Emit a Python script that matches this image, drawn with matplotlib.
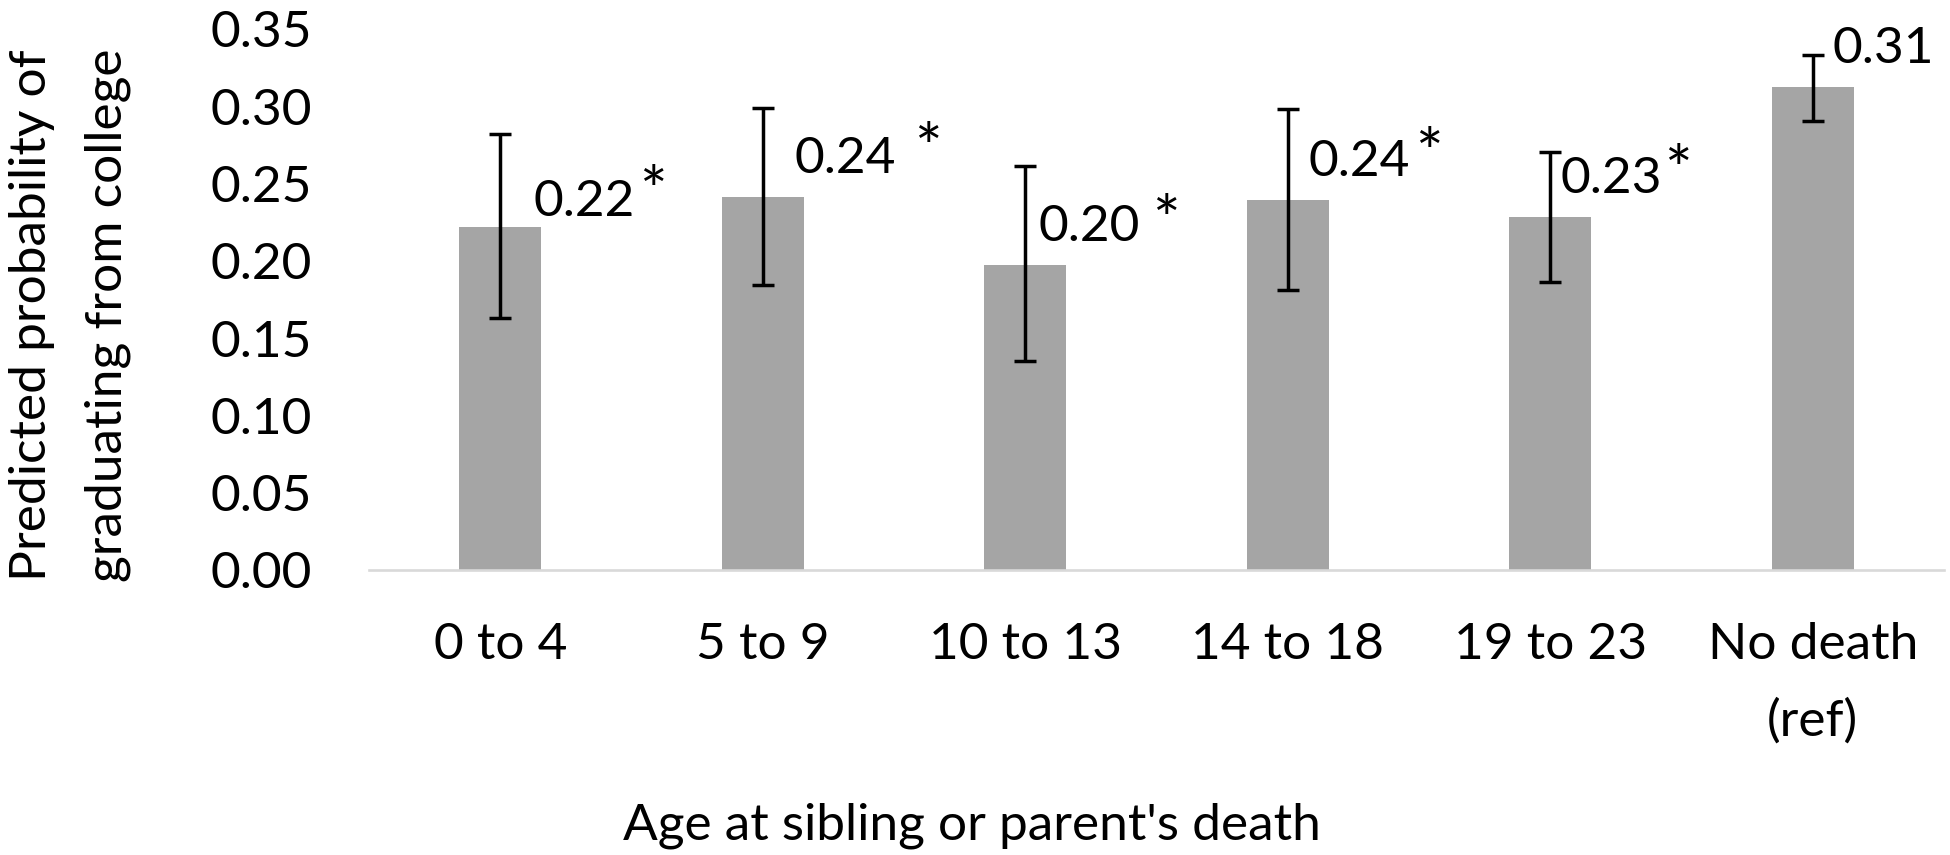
import matplotlib
matplotlib.use("Agg")
import matplotlib.pyplot as plt
import numpy as np

# ---------------- data ----------------
categories = ["0 to 4", "5 to 9", "10 to 13", "14 to 18", "19 to 23", "No death\n(ref)"]
values = [0.222, 0.241, 0.197, 0.239, 0.228, 0.312]
ci_low = [0.163, 0.184, 0.135, 0.181, 0.186, 0.290]
ci_high = [0.282, 0.299, 0.261, 0.298, 0.270, 0.333]
value_labels = ["0.22", "0.24", "0.20", "0.24", "0.23", "0.31"]
significant = [True, True, True, True, True, False]
ytick_values = [0.00, 0.05, 0.10, 0.15, 0.20, 0.25, 0.30, 0.35]
ytick_labels = ["0.00", "0.05", "0.10", "0.15", "0.20", "0.25", "0.30", "0.35"]
y_title = "Predicted probability of\ngraduating from college"
x_title = "Age at sibling or parent's death"

# ---------------- layout / style ----------------
W, H, DPI = 1950, 855, 100
FS = 37
STAR_FS = 47
plt.rcParams["font.family"] = ["Lato", "DejaVu Sans"]

# label offsets in output pixels relative to (bar centre, bar top)
num_offsets = [(33, 11), (32, 24), (13, 24), (21, 24.5), (10, 24.5), (20, 24.6)]
star_offsets = [(139, 61), (151, 74), (127, 70), (127, 72.5), (114, 72.5), (0, 0)]

fig = plt.figure(figsize=(W / DPI, H / DPI), dpi=DPI)
ax_left, ax_right = 369, 1944
ax_top, ax_bottom = 28.7, 570
ax = fig.add_axes([ax_left / W, 1 - ax_bottom / H,
                   (ax_right - ax_left) / W, (ax_bottom - ax_top) / H])

x = np.arange(len(categories))
vals = np.array(values)
lo = np.array(ci_low)
hi = np.array(ci_high)

ax.bar(x, vals, width=0.312, color="#A5A5A5", zorder=2)
ax.errorbar(x, vals, yerr=[vals - lo, hi - vals], fmt="none", ecolor="black",
            elinewidth=2.5, capsize=8, capthick=2.5, zorder=3)

ax.set_xlim(-0.5, len(categories) - 0.5)
ax.set_ylim(0, 0.35)
ax.set_yticks(ytick_values)
ax.set_yticklabels(ytick_labels)
ax.set_xticks(x)
ax.set_xticklabels(categories, linespacing=1.79)

ax.tick_params(axis="both", length=0, labelsize=FS, colors="black")
ax.tick_params(axis="x", pad=37.4)
ax.tick_params(axis="y", pad=41)

for s in ["top", "left", "right"]:
    ax.spines[s].set_visible(False)
ax.spines["bottom"].set_color("#D9D9D9")
ax.spines["bottom"].set_linewidth(1.9)

for i in range(len(categories)):
    dx, dy = num_offsets[i]
    ax.annotate(value_labels[i], xy=(x[i], vals[i]), xytext=(dx, dy),
                textcoords="offset pixels", ha="left", va="baseline",
                fontsize=FS, color="black", zorder=4)
    if significant[i]:
        sx, sy = star_offsets[i]
        ax.annotate("*", xy=(x[i], vals[i]), xytext=(sx, sy),
                    textcoords="offset pixels", ha="left", va="top",
                    fontsize=STAR_FS, color="black", zorder=4)

fig.text(70 / W, 1 - 315 / H, y_title, rotation=90, ha="center", va="center",
         multialignment="center", fontsize=FS, linespacing=1.79)
fig.text(972 / W, 1 - 839 / H, x_title, ha="center", va="baseline", fontsize=FS)

fig.savefig("out.png", dpi=DPI, facecolor="white")
